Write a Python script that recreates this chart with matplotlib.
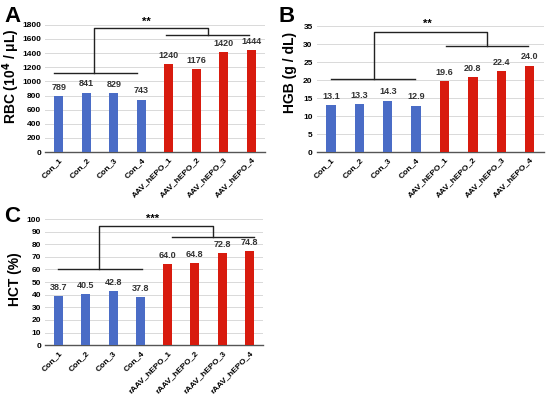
import matplotlib
matplotlib.use("Agg")
from matplotlib import pyplot as plt

plt.rcParams['font.family'] = ['Liberation Sans', 'DejaVu Sans']
plt.rcParams['font.weight'] = 'bold'

groups_ab = ['Con_1', 'Con_2', 'Con_3', 'Con_4',
             'AAV_hEPO_1', 'AAV_hEPO_2', 'AAV_hEPO_3', 'AAV_hEPO_4']
groups_c = ['Con_1', 'Con_2', 'Con_3', 'Con_4',
            'rAAV_hEPO_1', 'rAAV_hEPO_2', 'rAAV_hEPO_3', 'rAAV_hEPO_4']

rbc = [789, 841, 829, 743, 1240, 1176, 1420, 1444]
hgb = [13.1, 13.3, 14.3, 12.9, 19.6, 20.8, 22.4, 24.0]
hct = [38.7, 40.5, 42.8, 37.8, 64.0, 64.8, 72.8, 74.8]

blue = '#4A6CC6'
red = '#D81B0E'
colors = [blue] * 4 + [red] * 4

fig = plt.figure(figsize=(5.5, 3.94), dpi=100)
axA = fig.add_axes([0.082, 0.614, 0.400, 0.323])
axB = fig.add_axes([0.576, 0.614, 0.413, 0.320])
axC = fig.add_axes([0.082, 0.124, 0.396, 0.320])


def panel(ax, names, vals, ymax, step, ylabel, fmt, lx, ly):
    x = range(len(names))
    ax.bar(x, vals, width=0.33, color=colors, zorder=3)
    for i, v in enumerate(vals):
        ax.annotate(fmt.format(v), (i, v), xytext=(0, 3), textcoords='offset points',
                    ha='center', va='bottom', fontsize=6.5, fontweight='bold', color='#333333')
    ax.set_ylim(0, ymax)
    ax.set_xlim(-0.5, len(names) - 0.5)
    ax.set_yticks([k * step for k in range(int(round(ymax / step)) + 1)])
    ax.yaxis.grid(True, color='#d9d9d9', linewidth=0.7, zorder=0)
    ax.set_xticks(list(x))
    ax.set_xticklabels(names, rotation=45, ha='right', rotation_mode='anchor',
                       fontsize=6, fontweight='bold')
    ax.tick_params(axis='both', length=0, labelsize=6, pad=3)
    for lab in ax.get_yticklabels():
        lab.set_fontweight('bold')
    for s in ['top', 'right', 'left']:
        ax.spines[s].set_visible(False)
    ax.spines['bottom'].set_color('#555555')
    ax.spines['bottom'].set_linewidth(1.0)
    ax.set_ylabel(ylabel, fontsize=10, fontweight='bold')
    ax.yaxis.set_label_coords(lx, ly)


def bracket(ax, c0, c1, cy, vx, ty, rx, t0, t1, by, stars, sx, sy):
    kw = dict(color='#222222', linewidth=1.0, clip_on=False, zorder=4)
    ax.plot([c0, c1], [cy, cy], **kw)
    ax.plot([vx, vx, rx, rx], [cy, ty, ty, by], **kw)
    ax.plot([t0, t1], [by, by], **kw)
    ax.text(sx, sy, stars, ha='center', va='center', fontsize=8, fontweight='bold',
            clip_on=False)


panel(axA, groups_ab, rbc, 1800, 200, 'RBC (10$^{\\mathbf{4}}$ / μL)', '{:.0f}', -0.105, 0.6)
bracket(axA, -0.17, 2.83, 1115, 1.29, 1762, 5.42, 3.89, 6.93, 1654, '**', 3.2, 1840)

panel(axB, groups_ab, hgb, 35, 5, 'HGB (g / dL)', '{:.1f}', -0.088, 0.63)
bracket(axB, 0.0, 2.95, 20.3, 1.5, 33.3, 5.5, 4.04, 6.94, 29.4, '**', 3.4, 35.6)

panel(axC, groups_c, hct, 100, 10, 'HCT (%)', '{:.1f}', -0.105, 0.52)
bracket(axC, -0.01, 3.05, 60.5, 1.48, 94.7, 5.65, 4.15, 7.17, 85.7, '***', 3.46, 100.5)

fig.text(0.008, 0.985, 'A', fontsize=16, fontweight='bold', va='top')
fig.text(0.507, 0.985, 'B', fontsize=16, fontweight='bold', va='top')
fig.text(0.008, 0.478, 'C', fontsize=16, fontweight='bold', va='top')

fig.savefig('out.png', dpi=100)
